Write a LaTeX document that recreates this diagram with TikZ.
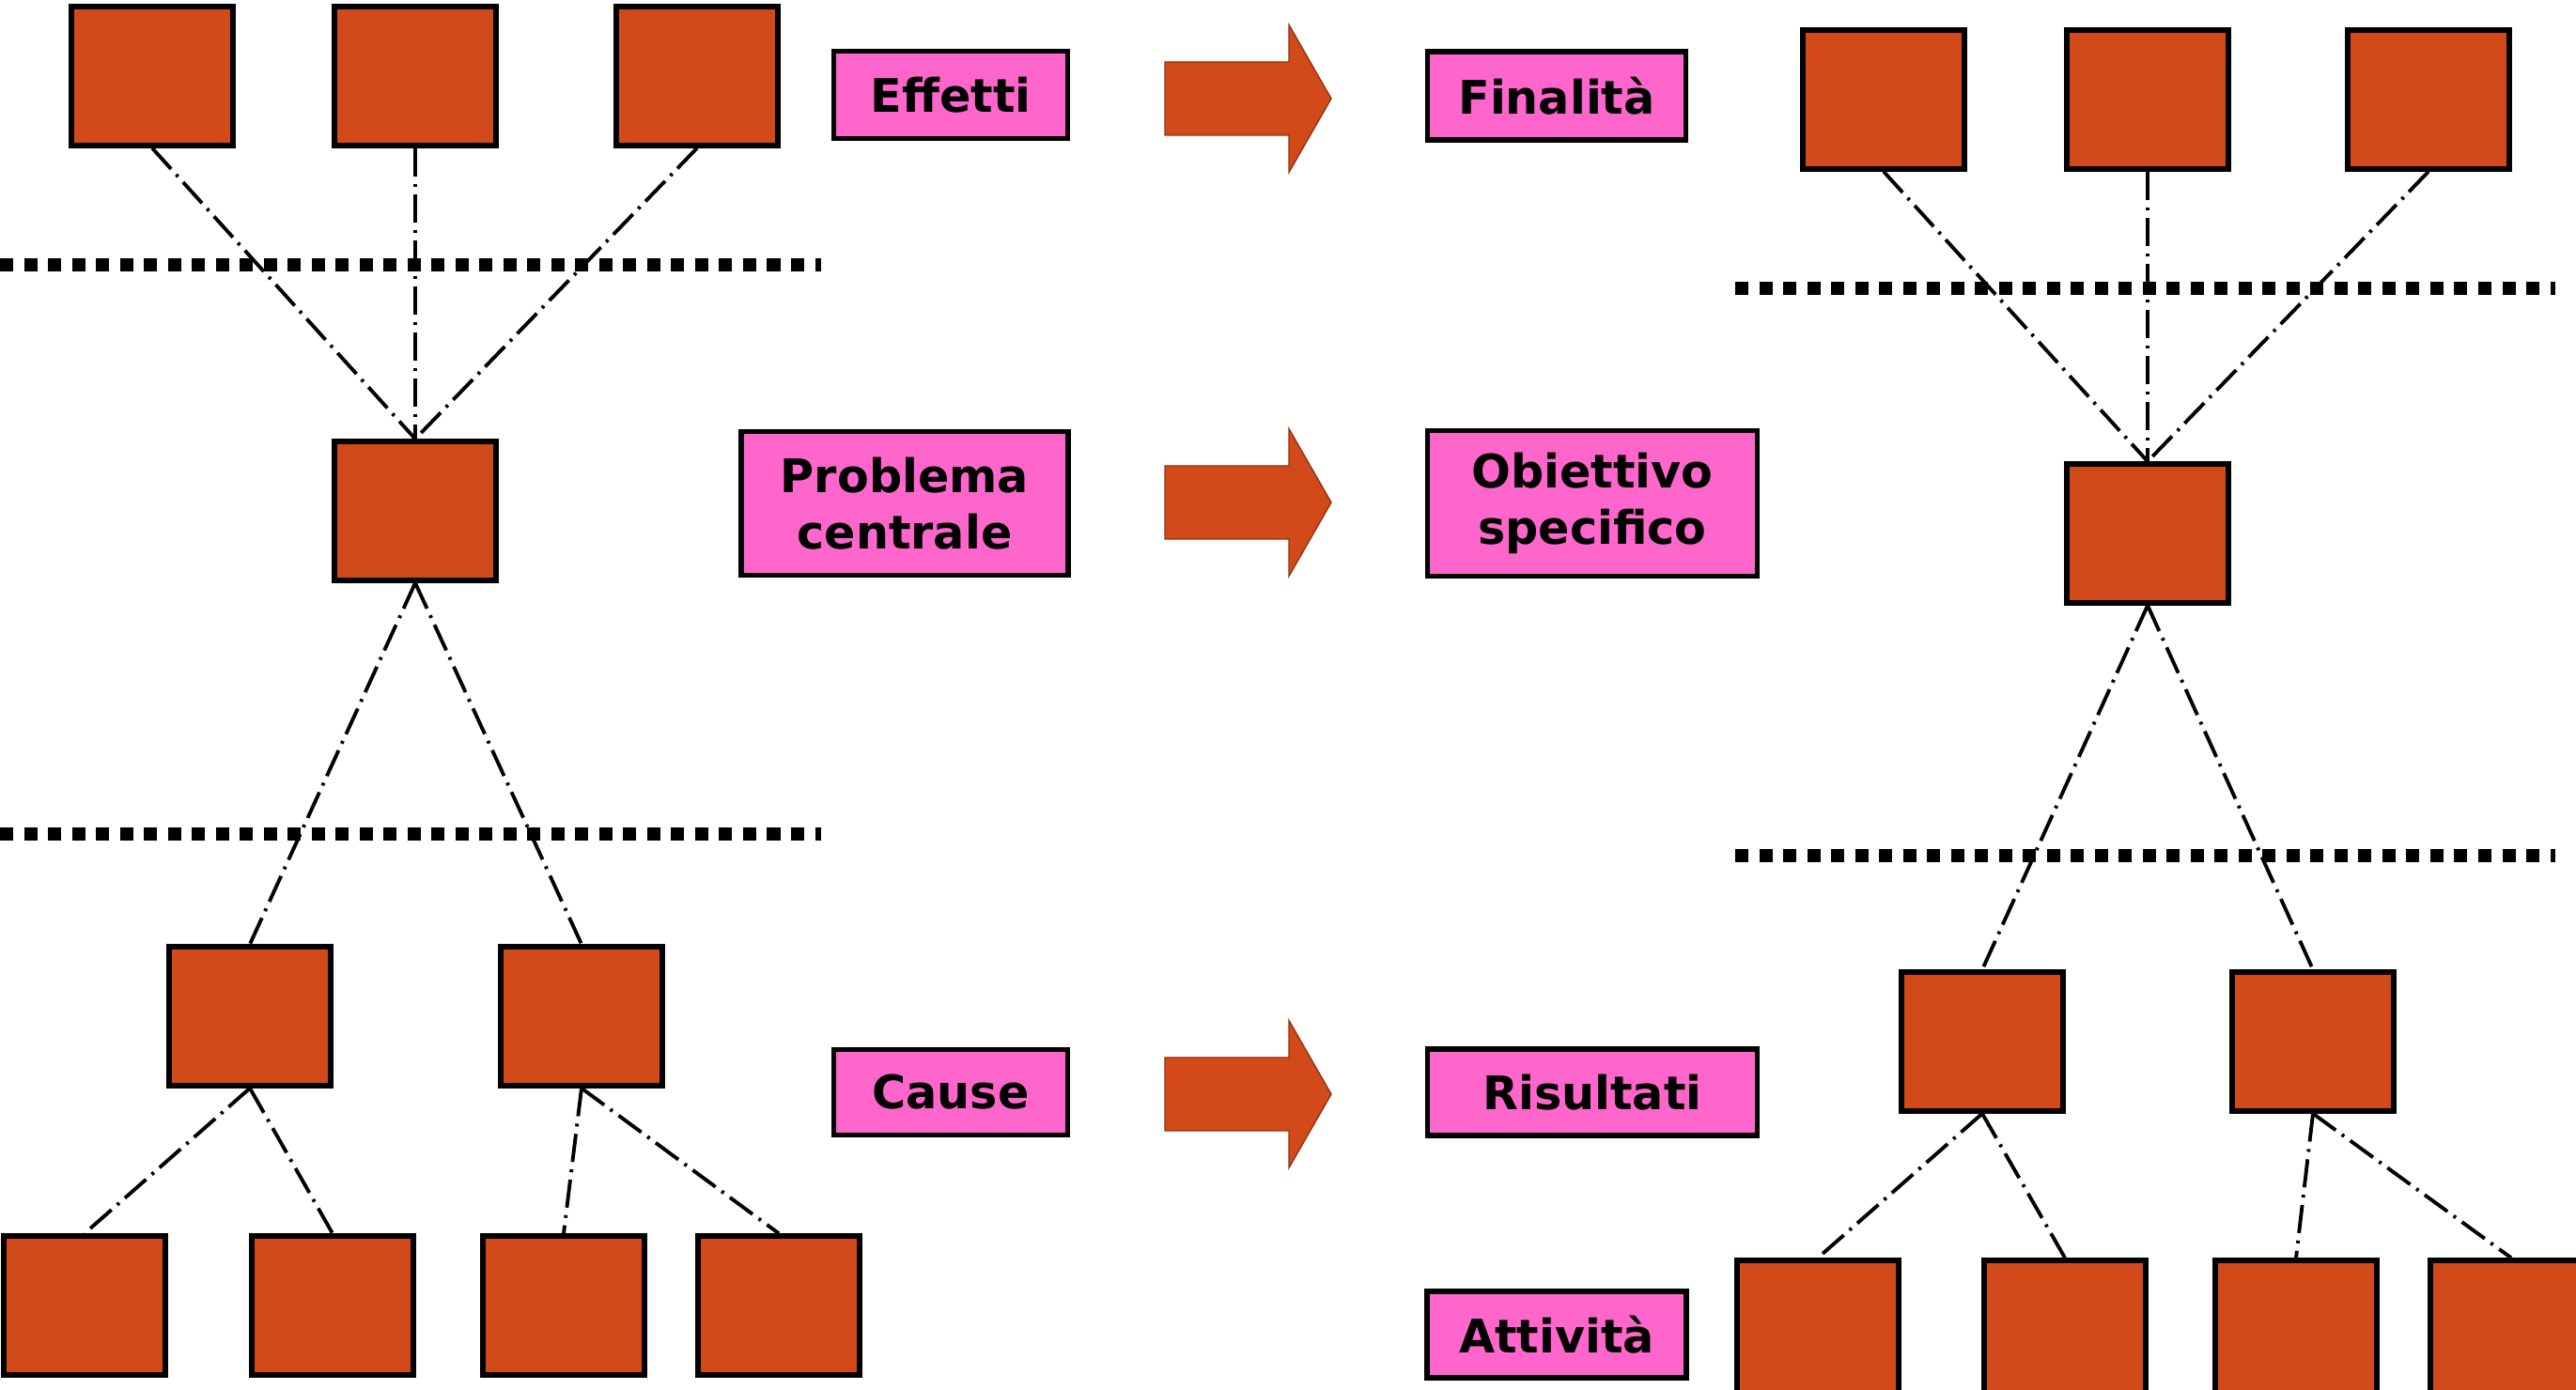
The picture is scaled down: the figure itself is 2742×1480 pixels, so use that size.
\documentclass[tikz,border=0pt]{standalone}
\usepackage{fontspec}
\setmainfont{DejaVu Sans}
\usetikzlibrary{positioning}
\definecolor{boxorange}{HTML}{D2491A}
\definecolor{tagpink}{HTML}{FF66CC}

\begin{document}
\begin{tikzpicture}[
    x=0.01cm, y=-0.01cm,
    box/.style={
        rectangle,
        draw,
        line width=1.5pt,
        fill=boxorange,
        minimum width=1.72cm,
        minimum height=1.48cm,
        inner sep=0pt
    },
    tag/.style={
        rectangle,
        draw,
        line width=1.5pt,
        fill=tagpink,
        align=center,
        inner sep=0pt,
        font=\fontsize{14}{17}\selectfont\bfseries
    },
    link/.style={
        line width=1.1pt,
        dash pattern=on 0.3cm off 0.08cm on 0.03cm off 0.08cm
    },
    level/.style={
        line width=0.14cm,
        dash pattern=on 0.14cm off 0.115cm
    },
    bigarrow/.style={
        fill=boxorange,
        draw=boxorange!70!black,
        line width=0.4pt
    }
]

\clip (0,0) rectangle (2742,1480);

% ===== separators =====
\draw[level] (0,282) -- (874,282);
\draw[level] (0,888) -- (874,888);
\draw[level] (1847,307) -- (2720,307);
\draw[level] (1847,911) -- (2720,911);

% ===== problem tree =====
\node[box] (e1) at (162,81) {};
\node[box] (e2) at (442,81) {};
\node[box] (e3) at (742,81) {};
\node[box] (p) at (442,544) {};
\node[box] (c1) at (266,1082) {};
\node[box] (c2) at (619,1082) {};
\node[box] (s1) at (90,1390) {};
\node[box] (s2) at (354,1390) {};
\node[box] (s3) at (600,1390) {};
\node[box] (s4) at (829,1390) {};

% ===== objective tree =====
\node[box] (f1) at (2005,106) {};
\node[box] (f2) at (2286,106) {};
\node[box] (f3) at (2585,106) {};
\node[box] (o) at (2286,568) {};
\node[box] (r1) at (2110,1109) {};
\node[box] (r2) at (2462,1109) {};
\node[box] (a1) at (1935,1416) {};
\node[box] (a2) at (2198,1416) {};
\node[box] (a3) at (2444,1416) {};
\node[box] (a4) at (2673,1416) {};

% ===== connectors =====
\foreach \i/\j in {e1/p, e2/p, e3/p, p/c1, p/c2, c1/s1, c1/s2, c2/s3, c2/s4,
                   f1/o, f2/o, f3/o, o/r1, o/r2, r1/a1, r1/a2, r2/a3, r2/a4} {
    \draw[link] (\i.south) -- (\j.north);
}

% ===== labels =====
\node[tag, minimum width=2.49cm, minimum height=0.93cm] (tEff) at (1012,101) {Effetti};
\node[tag, minimum width=3.48cm, minimum height=1.53cm] (tProb) at (963,536) {Problema\\centrale};
\node[tag, minimum width=2.49cm, minimum height=0.91cm] (tCau) at (1012,1163) {Cause};
\node[tag, minimum width=2.75cm, minimum height=0.94cm] (tFin) at (1657,102) {Finalità};
\node[tag, minimum width=3.51cm, minimum height=1.55cm] (tObj) at (1695,536) {Obiettivo\\specifico};
\node[tag, minimum width=3.51cm, minimum height=0.92cm] (tRis) at (1695,1163) {Risultati};
\node[tag, minimum width=2.76cm, minimum height=0.92cm] (tAtt) at (1657,1421) {Attività};

% ===== arrows =====
\foreach \y in {105, 535, 1165} {
    \draw[bigarrow] (1240,\y-39) -- ++(132,0) -- ++(0,-39.5) -- ++(45,78.5)
        -- ++(-45,78.5) -- ++(0,-39.5) -- ++(-132,0) -- cycle;
}

\end{tikzpicture}
\end{document}
